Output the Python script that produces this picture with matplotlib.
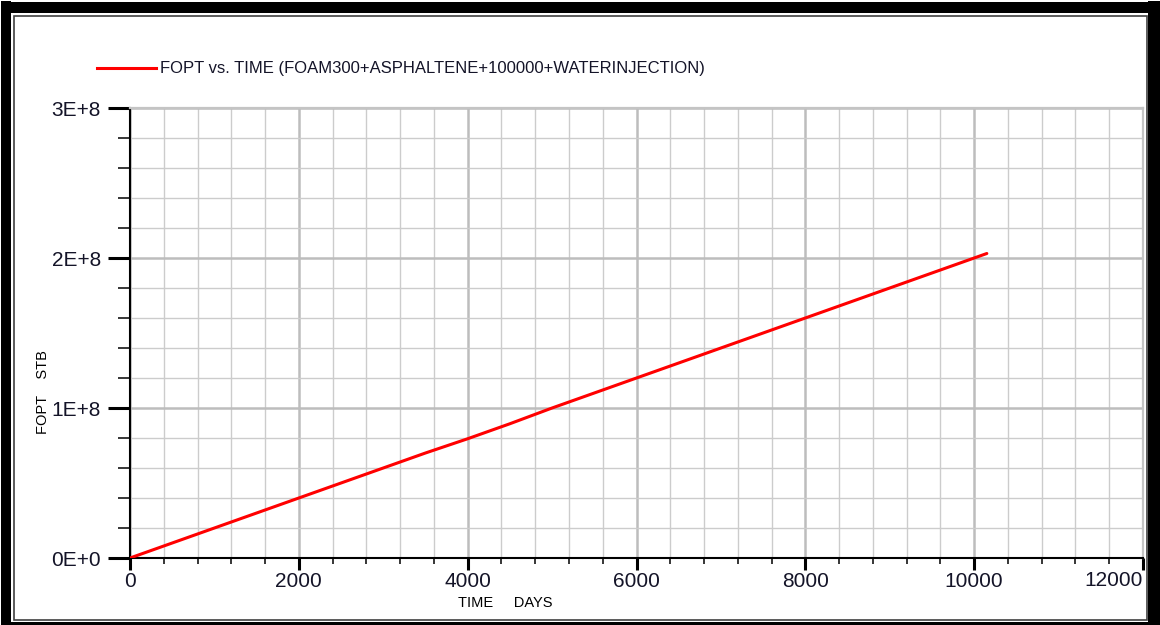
import matplotlib
matplotlib.use("Agg")
import matplotlib.pyplot as plt
import matplotlib.transforms as mtransforms
from matplotlib.patches import Rectangle
from matplotlib.lines import Line2D
from matplotlib.ticker import MultipleLocator, FuncFormatter

plt.rcParams['font.family'] = ['Liberation Sans', 'DejaVu Sans']

# field oil production total (STB) vs. simulation time (days)
time_days = [0, 500, 1000, 1500, 2000, 2500, 3000, 3500, 4000, 4500, 5000,
             5500, 6000, 6500, 7000, 7500, 8000, 8500, 9000, 9500, 10000, 10150]
fopt_stb = [0.0, 1.0e7, 2.0e7, 3.0e7, 4.0e7, 5.0e7, 6.0e7, 7.0e7, 7.95e7, 8.95e7, 1.0e8,
            1.1e8, 1.2e8, 1.3e8, 1.4e8, 1.5e8, 1.6e8, 1.7e8, 1.8e8, 1.9e8, 2.0e8, 2.03e8]

legend_label = 'FOPT vs. TIME (FOAM300+ASPHALTENE+100000+WATERINJECTION)'
x_max = 12000

W, H = 1160, 625
fig = plt.figure(figsize=(W / 100, H / 100), dpi=100)
fig.patch.set_facecolor('white')


def px_rect(x0, y0, x1, y1, **kw):
    # rectangle given in pixel coords measured from the top-left corner
    return Rectangle((x0 / W, 1 - y1 / H), (x1 - x0) / W, (y1 - y0) / H,
                     transform=fig.transFigure, **kw)


# window frame: thick black band plus a thin inner line
for r in [(1, 1, 11, 625), (1148, 1, 1160, 625), (1, 2, 1160, 13), (1, 622, 1160, 625)]:
    fig.patches.append(px_rect(*r, facecolor='black', edgecolor='none'))
fig.patches.append(px_rect(13.5, 15.5, 1146.5, 620, facecolor='none',
                           edgecolor='#404040', lw=1.2))

ax = fig.add_axes([130 / W, 1 - 558 / H, (1143 - 130) / W, (558 - 108) / H])
ax.plot(time_days, fopt_stb, color='red', lw=2.2, solid_capstyle='round', zorder=3)

ax.set_xlim(0, x_max)
ax.set_ylim(0, 3e8)
ax.xaxis.set_major_locator(MultipleLocator(2000))
ax.xaxis.set_minor_locator(MultipleLocator(400))
ax.yaxis.set_major_locator(MultipleLocator(1e8))
ax.yaxis.set_minor_locator(MultipleLocator(2e7))
ax.yaxis.set_major_formatter(FuncFormatter(
    lambda v, p: '0E+0' if v == 0 else f'{int(round(v / 1e8))}E+8'))
# the label at the right end is placed by hand, left of its tick
ax.xaxis.set_major_formatter(FuncFormatter(lambda v, p: '' if v >= x_max else f'{int(v)}'))

ax.grid(which='minor', color='#cccccc', lw=1.0)
ax.grid(which='major', color='#bdbdbd', lw=1.8)
ax.set_axisbelow(True)

for s in ['left', 'bottom']:
    ax.spines[s].set_color('black')
    ax.spines[s].set_linewidth(1.5)
for s in ['top', 'right']:
    ax.spines[s].set_color('#c4c4c4')
    ax.spines[s].set_linewidth(1.6)

ax.tick_params(axis='y', which='major', length=15.8, width=2.2, pad=5, labelsize=15,
               colors='black', labelcolor='#141428')
ax.tick_params(axis='y', which='minor', length=8.6, width=1.1, colors='black')
ax.tick_params(axis='x', which='major', length=8.6, width=2.2, pad=1.5, labelsize=15,
               colors='black', labelcolor='#141428')
ax.tick_params(axis='x', which='minor', length=4.3, width=1.1, colors='black')

trans = mtransforms.blended_transform_factory(ax.transData, ax.transAxes)
ax.text(x_max, -0.030, f'{x_max}', transform=trans, ha='right', va='top',
        fontsize=15, color='#141428', clip_on=False)

fig.text(505 / W, 1 - 603 / H, 'TIME     DAYS', fontsize=10.5, ha='center', va='center',
         color='black')
fig.text(43 / W, 1 - 392 / H, 'FOPT    STB', fontsize=10.5, ha='center', va='center',
         rotation=90, color='black')

# legend entry
fig.lines.append(Line2D([97 / W, 156 / W], [1 - 68 / H, 1 - 68 / H], color='red', lw=2.2,
                        transform=fig.transFigure))
fig.text(160 / W, 1 - 69 / H, legend_label, fontsize=12, ha='left', va='center',
         color='#141428')

fig.savefig('out.png', dpi=100)
